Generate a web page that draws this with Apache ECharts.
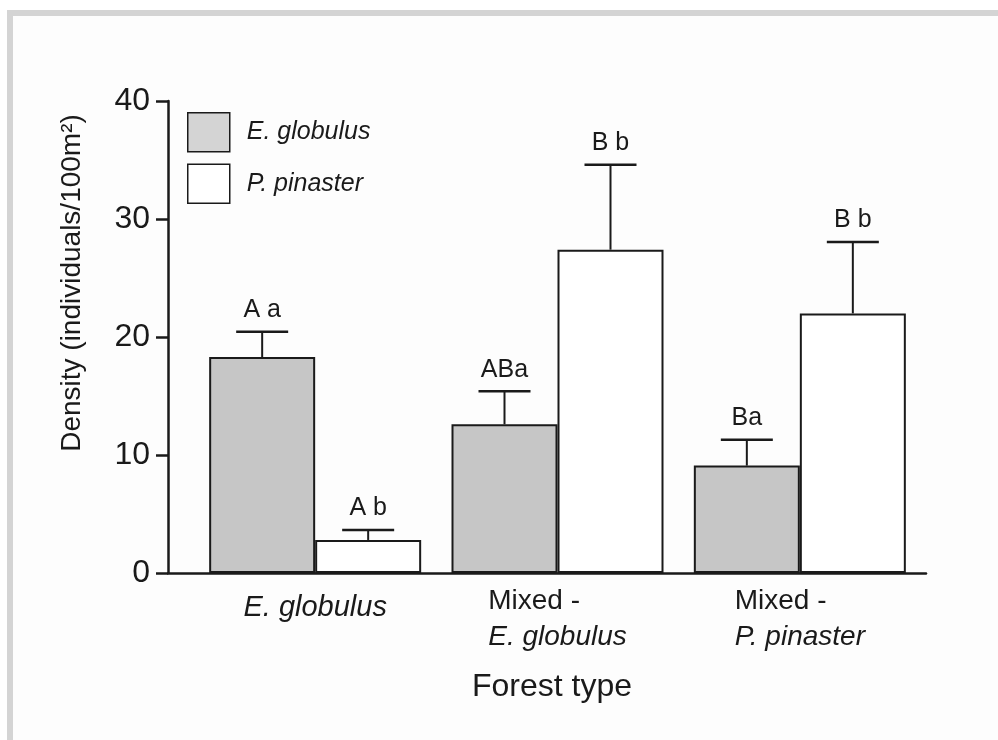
<!DOCTYPE html>
<html>
<head>
<meta charset="utf-8">
<script src="https://cdn.jsdelivr.net/npm/echarts@6/dist/echarts.min.js"></script>
<style>
  html, body { margin: 0; padding: 0; background: #ffffff; }
  #frame {
    position: absolute; left: 7px; top: 10px; width: 991px; height: 730px;
    box-sizing: border-box; background: #fdfdfd;
    border-left: 6px solid #d4d4d4; border-top: 6px solid #d4d4d4;
  }
  #chart { position: absolute; left: 0; top: 0; width: 998px; height: 740px; }
</style>
</head>
<body>
<div id="frame"></div>
<div id="chart"></div>
<script>
// Forest types on the x axis (second line of mixed stands is the dominant species)
const forestTypes = ['E. globulus', 'Mixed -\nE. globulus', 'Mixed -\nP. pinaster'];
const speciesNames = ['E. globulus', 'P. pinaster'];

// Mean density (individuals / 100 m²) and standard error per forest type
const eucalyptusMean = [18.3, 12.6, 9.1];
const eucalyptusSE   = [2.15, 2.8, 2.2];
const pinasterMean   = [2.8, 27.4, 22.0];
const pinasterSE     = [0.85, 7.2, 6.05];

// Significance letters above each bar
const eucalyptusLetters = ['A a', 'ABa', 'Ba'];
const pinasterLetters   = ['A b', 'B b', 'B b'];

const yTicks = [0, 10, 20, 30, 40];

const FONT = "'Liberation Sans', Arial, Helvetica, sans-serif";
const INK = '#1a1a1a';
const BAR_W = 106;
const CAP_W = 52;

function errorBars(name, means, errs, letters, side) {
  return {
    type: 'custom',
    name: name,
    xAxisIndex: 0,
    yAxisIndex: 0,
    z: 5,
    data: means.map((m, i) => [i, m, m + errs[i]]),
    renderItem(params, api) {
      const i = api.value(0);
      const base = api.coord([i, api.value(1)]);
      const top = api.coord([i, api.value(2)]);
      const x = base[0] + side * BAR_W / 2;
      return {
        type: 'group',
        children: [
          { type: 'line', shape: { x1: x, y1: base[1], x2: x, y2: top[1] },
            style: { stroke: INK, lineWidth: 2 } },
          { type: 'line', shape: { x1: x - CAP_W / 2, y1: top[1], x2: x + CAP_W / 2, y2: top[1] },
            style: { stroke: INK, lineWidth: 2.5 } },
          { type: 'text', x: x, y: top[1] - 9,
            style: { text: letters[params.dataIndex], fill: INK, font: '25px ' + FONT,
                     align: 'center', verticalAlign: 'bottom' } }
        ]
      };
    }
  };
}

const chart = echarts.init(document.getElementById('chart'), null, { renderer: 'canvas' });

chart.setOption({
  animation: false,
  backgroundColor: 'transparent',
  textStyle: { fontFamily: FONT, color: INK },
  grid: [
    { left: 194, right: 77, top: 101, bottom: 167 },
    { left: 168, right: 72, top: 101, bottom: 167 }
  ],
  legend: {
    orient: 'vertical',
    left: 187,
    top: 112,
    padding: 0,
    itemWidth: 42,
    itemHeight: 39,
    itemGap: 11,
    icon: 'rect',
    selectedMode: false,
    textStyle: { fontFamily: FONT, fontStyle: 'italic', fontSize: 25, color: INK, padding: [0, 0, 0, 12] },
    data: [
      { name: speciesNames[0], itemStyle: { color: '#d4d4d4', borderColor: INK, borderWidth: 1.5 } },
      { name: speciesNames[1], itemStyle: { color: '#ffffff', borderColor: INK, borderWidth: 1.5 } }
    ]
  },
  xAxis: [
    {
      type: 'category',
      gridIndex: 0,
      data: forestTypes,
      axisLine: { show: false },
      axisTick: { show: false },
      axisLabel: {
        interval: 0,
        margin: 10,
        color: INK,
        fontFamily: FONT,
        formatter(v) {
          const parts = v.split('\n');
          if (parts.length === 1) return '{solo|' + v + '}';
          return '{plain|' + parts[0] + '}\n{ital|' + parts[1] + '}';
        },
        rich: {
          solo:  { fontFamily: FONT, fontStyle: 'italic', fontSize: 29, lineHeight: 36, padding: [13, 0, 0, 0], color: INK },
          plain: { fontFamily: FONT, fontSize: 28, lineHeight: 36, align: 'left', color: INK },
          ital:  { fontFamily: FONT, fontStyle: 'italic', fontSize: 28, lineHeight: 36, align: 'left', color: INK }
        }
      }
    },
    {
      type: 'value',
      gridIndex: 1,
      min: 0,
      max: 1,
      name: 'Forest type',
      nameLocation: 'middle',
      nameGap: 98,
      nameTextStyle: { fontFamily: FONT, fontSize: 32, color: INK, padding: [0, 0, 0, 10] },
      axisLine: { show: true, lineStyle: { color: INK, width: 2.5 } },
      axisTick: { show: false },
      axisLabel: { show: false },
      splitLine: { show: false }
    }
  ],
  yAxis: [
    {
      type: 'value',
      gridIndex: 0,
      min: yTicks[0],
      max: yTicks[yTicks.length - 1],
      interval: 10,
      offset: 26,
      name: 'Density (individuals/100m²)',
      nameLocation: 'middle',
      nameGap: 82,
      nameTextStyle: { fontFamily: FONT, fontSize: 28, color: INK, padding: [0, 0, 0, 108] },
      axisLine: { show: true, lineStyle: { color: INK, width: 2.5 } },
      axisTick: { show: true, length: 12, lineStyle: { color: INK, width: 2.5 } },
      axisLabel: { fontFamily: FONT, fontSize: 32, color: INK, margin: 18 },
      splitLine: { show: false }
    },
    {
      type: 'value',
      gridIndex: 1,
      min: 0,
      max: 40,
      show: false
    }
  ],
  series: [
    {
      type: 'bar',
      name: speciesNames[0],
      xAxisIndex: 0,
      yAxisIndex: 0,
      data: eucalyptusMean,
      barWidth: BAR_W,
      barGap: '0%',
      itemStyle: { color: '#c6c6c6', borderColor: INK, borderWidth: 2 }
    },
    {
      type: 'bar',
      name: speciesNames[1],
      xAxisIndex: 0,
      yAxisIndex: 0,
      data: pinasterMean,
      barWidth: BAR_W,
      barGap: '0%',
      itemStyle: { color: '#ffffff', borderColor: INK, borderWidth: 2 }
    },
    errorBars('E. globulus SE', eucalyptusMean, eucalyptusSE, eucalyptusLetters, -1),
    errorBars('P. pinaster SE', pinasterMean, pinasterSE, pinasterLetters, 1)
  ]
});
</script>
</body>
</html>
